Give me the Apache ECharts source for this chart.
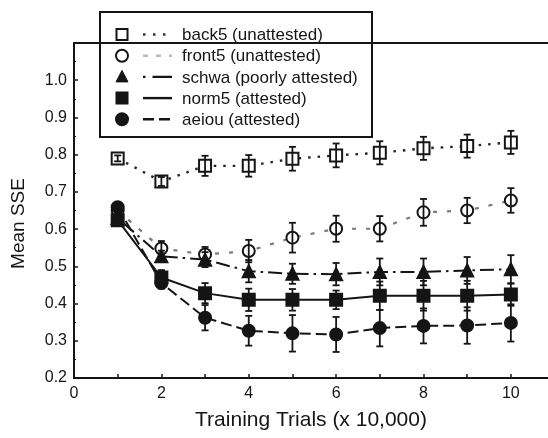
<!DOCTYPE html>
<html>
<head>
<meta charset="utf-8">
<script src="https://cdn.jsdelivr.net/npm/echarts@6/dist/echarts.min.js"></script>
<style>
html,body{margin:0;padding:0;background:#fff;}
#chart{width:548px;height:438px;}
</style>
</head>
<body>
<div id="chart"></div>
<script>
// ---- data ----
const trials = [1, 2, 3, 4, 5, 6, 7, 8, 9, 10];
const seriesNames = ['back5 (unattested)', 'front5 (unattested)', 'schwa (poorly attested)', 'norm5 (attested)', 'aeiou (attested)'];
const back5 = [0.79, 0.728, 0.77, 0.77, 0.789, 0.798, 0.805, 0.817, 0.823, 0.833];
const back5Err = [0.008, 0.012, 0.027, 0.029, 0.032, 0.032, 0.031, 0.031, 0.031, 0.031];
const front5 = [0.65, 0.548, 0.532, 0.541, 0.577, 0.601, 0.601, 0.645, 0.65, 0.677];
const front5Err = [0.01, 0.02, 0.02, 0.03, 0.04, 0.035, 0.034, 0.036, 0.034, 0.033];
const schwa = [0.63, 0.527, 0.518, 0.487, 0.48, 0.479, 0.485, 0.485, 0.489, 0.492];
const schwaErr = [0.01, 0.015, 0.02, 0.03, 0.027, 0.03, 0.036, 0.036, 0.036, 0.038];
const norm5 = [0.624, 0.47, 0.428, 0.41, 0.41, 0.41, 0.421, 0.421, 0.421, 0.424];
const norm5Err = [0.01, 0.02, 0.027, 0.03, 0.029, 0.025, 0.038, 0.04, 0.04, 0.03];
const aeiou = [0.659, 0.455, 0.362, 0.327, 0.32, 0.317, 0.334, 0.34, 0.341, 0.348];
const aeiouErr = [0.01, 0.015, 0.034, 0.04, 0.049, 0.047, 0.049, 0.047, 0.049, 0.05];
const yTicks = [0.2, 0.3, 0.4, 0.5, 0.6, 0.7, 0.8, 0.9, 1.0];
const xTicks = [0, 2, 4, 6, 8, 10];
const xTickMarks = [0, 1, 2, 3, 4, 5, 6, 7, 8, 9, 10];

// ---- styles ----
const FONT = "'Liberation Sans', Arial, Helvetica, sans-serif";
const INK = '#151515';
const styles = [
  { values: back5, errs: back5Err, symbol: 'rect', fill: '#fff', line: { color: '#222', width: 2.4, type: [2.5, 7] }, legendLine: { color: '#333', dash: [2.5, 7.5], width: 2.4 } },
  { values: front5, errs: front5Err, symbol: 'circle', fill: '#fff', line: { color: '#7a7a7a', width: 2.2, type: [4, 10] }, legendLine: { color: '#bbb', dash: [5, 8], width: 2.4 } },
  { values: schwa, errs: schwaErr, symbol: 'triangle', fill: INK, line: { color: INK, width: 2, type: [2.5, 5, 14, 5] }, legendLine: { color: INK, dash: [2.5, 7, 20, 5], width: 2.4 } },
  { values: norm5, errs: norm5Err, symbol: 'rect', fill: INK, line: { color: INK, width: 2, type: 'solid' }, legendLine: { color: INK, dash: null, width: 2.4 } },
  { values: aeiou, errs: aeiouErr, symbol: 'circle', fill: INK, line: { color: INK, width: 2, type: [11, 5] }, legendLine: { color: INK, dash: [11, 5], width: 2.4 } }
];

const chart = echarts.init(document.getElementById('chart'), null, { renderer: 'canvas' });

const series = [];
styles.forEach((s, k) => {
  series.push({
    name: seriesNames[k],
    type: 'line',
    data: trials.map((x, i) => [x, s.values[i]]),
    symbol: s.symbol,
    symbolSize: 12,
    showSymbol: true,
    lineStyle: s.line,
    itemStyle: { color: s.fill, borderColor: INK, borderWidth: 2, opacity: 1 },
    emphasis: { disabled: true },
    z: 2 + k,
    animation: false
  });
  series.push({
    type: 'custom',
    name: seriesNames[k] + ' err',
    data: trials.map((x, i) => [x, s.values[i], s.errs[i]]),
    renderItem: function (params, api) {
      const x = api.value(0), y = api.value(1), e = api.value(2);
      const top = api.coord([x, y + e]);
      const bot = api.coord([x, y - e]);
      const w = 3.5;
      const st = { stroke: INK, lineWidth: 1.8 };
      return {
        type: 'group',
        children: [
          { type: 'line', shape: { x1: top[0], y1: top[1], x2: bot[0], y2: bot[1] }, style: st },
          { type: 'line', shape: { x1: top[0] - w, y1: top[1], x2: top[0] + w, y2: top[1] }, style: st },
          { type: 'line', shape: { x1: bot[0] - w, y1: bot[1], x2: bot[0] + w, y2: bot[1] }, style: st }
        ]
      };
    },
    z: 10,
    animation: false,
    silent: true
  });
});

// legend (drawn as graphics)
const LX = 100, LY = 12, LW = 272, LH = 125;
const rowY0 = 34.5, rowStep = 21.2;
const legendChildren = [
  { type: 'rect', shape: { x: LX, y: LY, width: LW, height: LH }, style: { fill: '#fff', stroke: INK, lineWidth: 2 } }
];
styles.forEach((s, k) => {
  const cy = rowY0 + k * rowStep;
  const cx = 122;
  if (s.symbol === 'rect') {
    legendChildren.push({ type: 'rect', shape: { x: cx - 5.5, y: cy - 5.5, width: 11, height: 11 }, style: { fill: s.fill, stroke: INK, lineWidth: 2 } });
  } else if (s.symbol === 'circle') {
    legendChildren.push({ type: 'circle', shape: { cx: cx, cy: cy, r: 6 }, style: { fill: s.fill, stroke: INK, lineWidth: 2 } });
  } else {
    legendChildren.push({ type: 'polygon', shape: { points: [[cx, cy - 6.5], [cx + 6, cy + 5], [cx - 6, cy + 5]] }, style: { fill: s.fill, stroke: INK, lineWidth: 1 } });
  }
  legendChildren.push({ type: 'line', shape: { x1: 143, y1: cy, x2: 172, y2: cy }, style: { stroke: s.legendLine.color, lineWidth: s.legendLine.width, lineDash: s.legendLine.dash } });
  legendChildren.push({ type: 'text', x: 182, y: cy + 1, style: { text: seriesNames[k], fill: INK, font: '17px ' + FONT, verticalAlign: 'middle', align: 'left' } });
});

const option = {
  backgroundColor: '#fff',
  animation: false,
  textStyle: { fontFamily: FONT, color: INK },
  grid: { left: 74, right: 0, top: 43, bottom: 60, containLabel: false, outerBoundsMode: 'none' },
  xAxis: [{
    type: 'value', min: 0, max: 10.85, interval: 1,
    name: 'Training Trials (x 10,000)', nameLocation: 'middle', nameGap: 32,
    nameTextStyle: { fontSize: 21, color: INK, fontFamily: FONT },
    axisLine: { show: true, onZero: false, lineStyle: { color: INK, width: 2 } },
    axisTick: { show: true, inside: true, length: 4, customValues: xTickMarks, lineStyle: { color: INK, width: 1.5 } },
    axisLabel: {
      fontSize: 16, color: INK, margin: 8, fontFamily: FONT,
      customValues: xTicks,
      formatter: function (v) { return String(Math.round(v)); }
    },
    splitLine: { show: false }
  }, {
    type: 'value', min: 0, max: 10.85, position: 'top',
    axisLine: { show: true, onZero: false, lineStyle: { color: INK, width: 2 } },
    axisTick: { show: false }, axisLabel: { show: false }, splitLine: { show: false }
  }],
  yAxis: {
    type: 'value', min: 0.2, max: 1.1, interval: 0.1,
    name: 'Mean SSE', nameLocation: 'middle', nameGap: 46,
    nameTextStyle: { fontSize: 19, color: INK, fontFamily: FONT, padding: [0, 26, 0, 0] },
    axisLine: { show: true, onZero: false, lineStyle: { color: INK, width: 2 } },
    axisTick: { show: true, inside: true, length: 4, lineStyle: { color: INK, width: 1.5 } },
    minorTick: { show: true, splitNumber: 2, length: 2, lineStyle: { color: INK, width: 1 } },
    axisLabel: {
      fontSize: 16, color: INK, margin: 7, fontFamily: FONT,
      formatter: function (v) {
        const r = Math.round(v * 10) / 10;
        return yTicks.indexOf(r) >= 0 ? r.toFixed(1) : '';
      }
    },
    splitLine: { show: false }
  },
  series: series,
  graphic: [{ type: 'group', z: 100, children: legendChildren }]
};
chart.setOption(option);
</script>
</body>
</html>
